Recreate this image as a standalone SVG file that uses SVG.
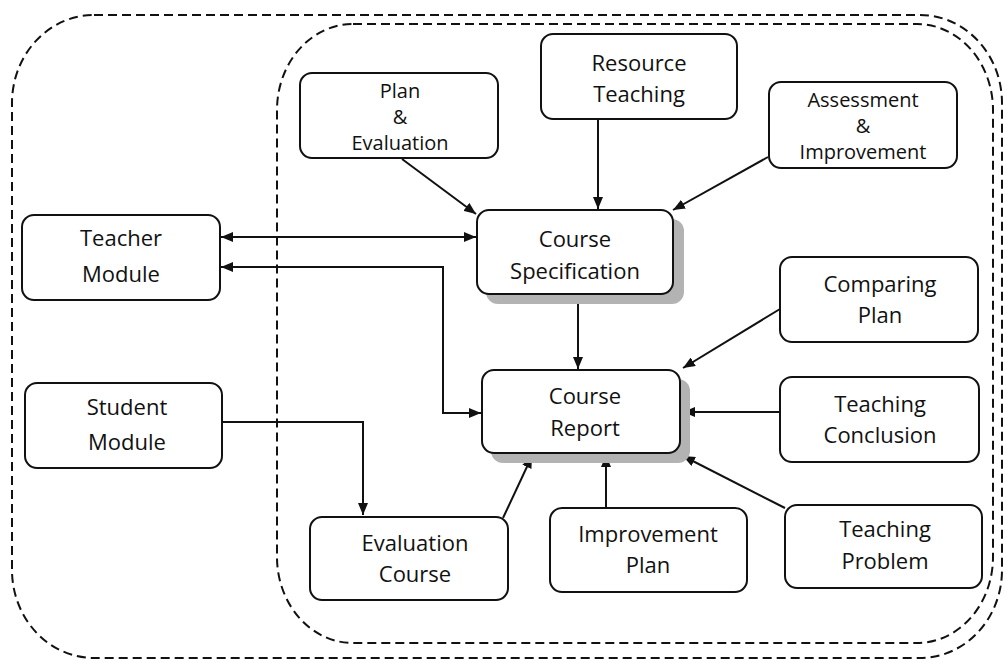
<svg xmlns="http://www.w3.org/2000/svg" width="1005" height="666" viewBox="0 0 1005 666">
<style>
.bound{fill:none;stroke:#111;stroke-width:2;stroke-dasharray:9 5}
.box{fill:#fff;stroke:#111;stroke-width:2}
.shadow{fill:#b3b3b3}
.t{font-family:"Open Sans","Noto Sans",sans-serif;font-size:22px;fill:#111;text-anchor:middle}
.t3{font-size:20px}
.c{fill:none;stroke:#111;stroke-width:2}
</style>
<defs>
<marker id="ah" viewBox="0 0 12 10" refX="12" refY="5" markerWidth="12" markerHeight="10" markerUnits="userSpaceOnUse" orient="auto-start-reverse">
<path d="M0,0 L12,5 L0,10 Z" fill="#111"/>
</marker>
</defs>
<rect width="1005" height="666" fill="#fff"/>
<g id="boundaries">
<rect class="bound" x="12" y="15" width="990" height="643" rx="82" ry="88"/>
<rect class="bound" x="277" y="24" width="716" height="619" rx="76" ry="86"/>
</g>
<g id="connectors">
<line class="c" x1="402" y1="159" x2="476" y2="214" marker-end="url(#ah)"/>
<line class="c" x1="598" y1="119" x2="598" y2="209" marker-end="url(#ah)"/>
<line class="c" x1="768" y1="157" x2="673" y2="210" marker-end="url(#ah)"/>
<line class="c" x1="221" y1="237" x2="476" y2="237" marker-start="url(#ah)" marker-end="url(#ah)"/>
<polyline class="c" points="221,267 443,267 443,413 481,413" marker-start="url(#ah)" marker-end="url(#ah)"/>
<line class="c" x1="578" y1="294" x2="578" y2="369" marker-end="url(#ah)"/>
<line class="c" x1="780" y1="309" x2="683" y2="368" marker-end="url(#ah)"/>
<line class="c" x1="780" y1="412" x2="683" y2="412" marker-end="url(#ah)"/>
<line class="c" x1="785" y1="508" x2="683" y2="456" marker-end="url(#ah)"/>
<line class="c" x1="606" y1="508" x2="606" y2="455" marker-end="url(#ah)"/>
<line class="c" x1="503" y1="518" x2="532" y2="456" marker-end="url(#ah)"/>
<polyline class="c" points="222,422 363,422 363,515" marker-end="url(#ah)"/>
</g>
<g id="plan-evaluation">
<rect class="box" x="300" y="73" width="198" height="85" rx="12"/>
<text class="t t3" x="400" y="98">Plan</text>
<text class="t t3" x="400" y="124">&amp;</text>
<text class="t t3" x="400" y="150">Evaluation</text>
</g>
<g id="resource-teaching">
<rect class="box" x="541" y="34" width="196" height="85" rx="12"/>
<text class="t" x="639" y="71">Resource</text>
<text class="t" x="639" y="102">Teaching</text>
</g>
<g id="assessment-improvement">
<rect class="box" x="769" y="82" width="188" height="86" rx="12"/>
<text class="t t3" x="863" y="107">Assessment</text>
<text class="t t3" x="863" y="133">&amp;</text>
<text class="t t3" x="863" y="159">Improvement</text>
</g>
<g id="course-specification">
<rect class="shadow" x="486" y="219" width="198" height="85" rx="12"/>
<rect class="box" x="477" y="210" width="196" height="84" rx="12"/>
<text class="t" x="575" y="247">Course</text>
<text class="t" x="575" y="279">Specification</text>
</g>
<g id="teacher-module">
<rect class="box" x="22" y="215" width="198" height="85" rx="12"/>
<text class="t" x="121" y="246">Teacher</text>
<text class="t" x="121" y="282">Module</text>
</g>
<g id="student-module">
<rect class="box" x="25" y="383" width="197" height="85" rx="12"/>
<text class="t" x="127" y="415">Student</text>
<text class="t" x="127" y="450">Module</text>
</g>
<g id="course-report">
<rect class="shadow" x="491" y="379" width="199" height="84" rx="12"/>
<rect class="box" x="482" y="370" width="198" height="83" rx="12"/>
<text class="t" x="585" y="404">Course</text>
<text class="t" x="585" y="436">Report</text>
</g>
<g id="comparing-plan">
<rect class="box" x="780" y="257" width="198" height="85" rx="12"/>
<text class="t" x="880" y="292">Comparing</text>
<text class="t" x="880" y="323">Plan</text>
</g>
<g id="teaching-conclusion">
<rect class="box" x="780" y="377" width="199" height="85" rx="12"/>
<text class="t" x="880" y="412">Teaching</text>
<text class="t" x="880" y="443">Conclusion</text>
</g>
<g id="teaching-problem">
<rect class="box" x="785" y="505" width="197" height="83" rx="12"/>
<text class="t" x="885" y="537">Teaching</text>
<text class="t" x="885" y="569">Problem</text>
</g>
<g id="improvement-plan">
<rect class="box" x="550" y="508" width="197" height="84" rx="12"/>
<text class="t" x="648" y="542">Improvement</text>
<text class="t" x="648" y="573">Plan</text>
</g>
<g id="evaluation-course">
<rect class="box" x="310" y="517" width="198" height="83" rx="12"/>
<text class="t" x="415" y="551">Evaluation</text>
<text class="t" x="415" y="582">Course</text>
</g>
</svg>
